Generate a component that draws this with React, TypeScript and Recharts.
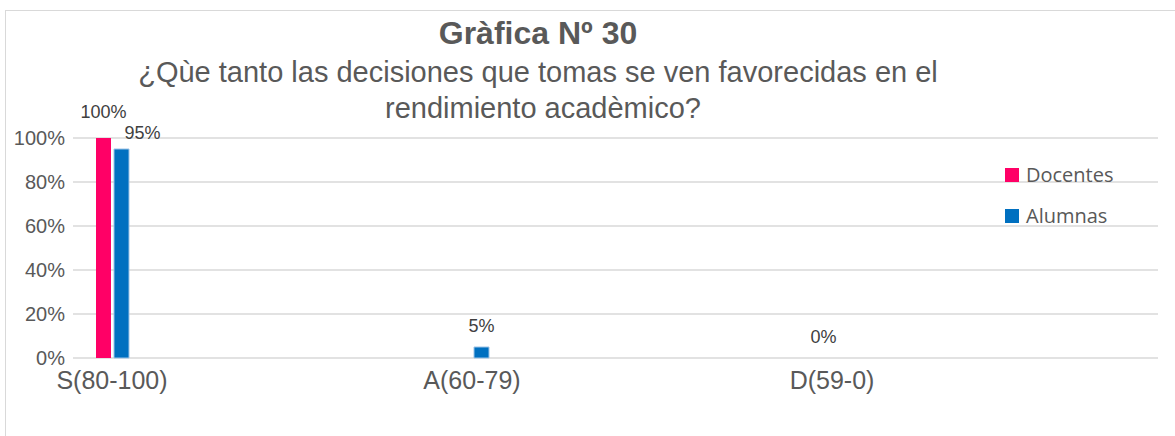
import { BarChart, Bar, XAxis, YAxis, CartesianGrid, Legend, LabelList } from "recharts";

const categories = ["S(80-100)", "A(60-79)", "D(59-0)"];
const seriesNames = ["Docentes", "Alumnas"];
const docentes = [100, null, 0];
const alumnas = [95, 5, null];
const yTicks = [0, 20, 40, 60, 80, 100];

const data = categories.map((name, i) => ({
  name,
  Docentes: docentes[i],
  Alumnas: alumnas[i],
}));

const FONT = '"Liberation Sans", Arial, sans-serif';

// labels sit above the bar; the two tall ones at S are nudged apart like in the original
const makeLabel = (series: string) => (props: any) => {
  const { value, index } = props;
  if (value === null || value === undefined) return null;
  const vb = props.viewBox || {};
  const x = Number(props.x ?? vb.x);
  const y = Number(props.y ?? vb.y);
  const w = Number(props.width ?? vb.width ?? 0);
  let dx = 0;
  let dy = -15;
  if (index === 0 && series === "Docentes") dy = -20;
  if (index === 0 && series === "Alumnas") {
    dx = 21;
    dy = -10;
  }
  return (
    <text
      x={x + w / 2 + dx}
      y={y + dy}
      textAnchor="middle"
      fontSize={18}
      fill="#404040"
      fontFamily={FONT}
    >
      {value}%
    </text>
  );
};

const renderLegend = (props: any) => {
  const payload = [...(props.payload || [])].sort(
    (a: any, b: any) => seriesNames.indexOf(a.value) - seriesNames.indexOf(b.value)
  );
  return (
    <div>
      {payload.map((entry: any) => (
        <div
          key={entry.value}
          style={{ display: "flex", alignItems: "center", height: 41 }}
        >
          <span
            style={{ width: 14, height: 14, background: entry.color, marginRight: 7 }}
          />
          <span style={{ fontFamily: '"Open Sans", sans-serif', fontSize: 20, color: "#595959" }}>
            {entry.value}
          </span>
        </div>
      ))}
    </div>
  );
};

// zero values still need their label, so give them a hair-thin rect
const zeroSize = (value: any) => (value === 0 ? 0.01 : 0);

export default function App() {
  return (
    <div
      style={{
        position: "absolute",
        left: 0,
        top: 0,
        width: 1175,
        height: 436,
        overflow: "hidden",
        background: "#fff",
        fontFamily: FONT,
      }}
    >
      <div
        style={{
          position: "absolute",
          left: 5,
          top: 10,
          width: 1200,
          height: 500,
          border: "1px solid #d9d9d9",
        }}
      />
      <div
        style={{
          position: "absolute",
          left: 0,
          width: 1076,
          top: 14,
          textAlign: "center",
          fontSize: 32,
          fontWeight: "bold",
          color: "#595959",
          lineHeight: "38px",
        }}
      >
        Gràfica Nº 30
      </div>
      <div
        style={{
          position: "absolute",
          left: 0,
          width: 1076,
          top: 54,
          textAlign: "center",
          fontSize: 29,
          color: "#595959",
          lineHeight: "36px",
        }}
      >
        ¿Qùe tanto las decisiones que tomas se ven favorecidas en el
      </div>
      <div
        style={{
          position: "absolute",
          left: 0,
          width: 1086,
          top: 90,
          textAlign: "center",
          fontSize: 29,
          color: "#595959",
          lineHeight: "36px",
        }}
      >
        rendimiento acadèmico?
      </div>
      <div style={{ position: "absolute", left: 0, top: 0 }}>
        <BarChart
          width={1175}
          height={436}
          data={data}
          margin={{ top: 138, right: 17, bottom: 0, left: 0 }}
          barSize={15}
          barGap={3}
        >
          <CartesianGrid vertical={false} stroke="#d9d9d9" strokeWidth={1.5} />
          <XAxis
            dataKey="name"
            height={78}
            padding={{ left: -141, right: 146 }}
            axisLine={false}
            tickLine={false}
            tickSize={0}
            tickMargin={13}
            tick={{ fontSize: 25, fill: "#595959", fontFamily: FONT }}
            interval={0}
          />
          <YAxis
            width={73}
            domain={[0, 100]}
            ticks={yTicks}
            axisLine={false}
            tickLine={false}
            tickSize={0}
            tickMargin={8}
            tickFormatter={(v) => `${v}%`}
            tick={{ fontSize: 20, fill: "#595959", fontFamily: FONT }}
          />
          <Legend
            layout="vertical"
            align="center"
            verticalAlign="middle"
            content={renderLegend}
            wrapperStyle={{ position: "absolute", left: 1005, top: 154, width: 160 }}
          />
          <Bar
            dataKey="Docentes"
            fill="#FF0066"
            minPointSize={zeroSize}
            isAnimationActive={false}
          >
            <LabelList dataKey="Docentes" content={makeLabel("Docentes")} />
          </Bar>
          <Bar
            dataKey="Alumnas"
            fill="#0070C0"
            stroke="#9dc3e6"
            strokeWidth={1}
            isAnimationActive={false}
          >
            <LabelList dataKey="Alumnas" content={makeLabel("Alumnas")} />
          </Bar>
        </BarChart>
      </div>
    </div>
  );
}
